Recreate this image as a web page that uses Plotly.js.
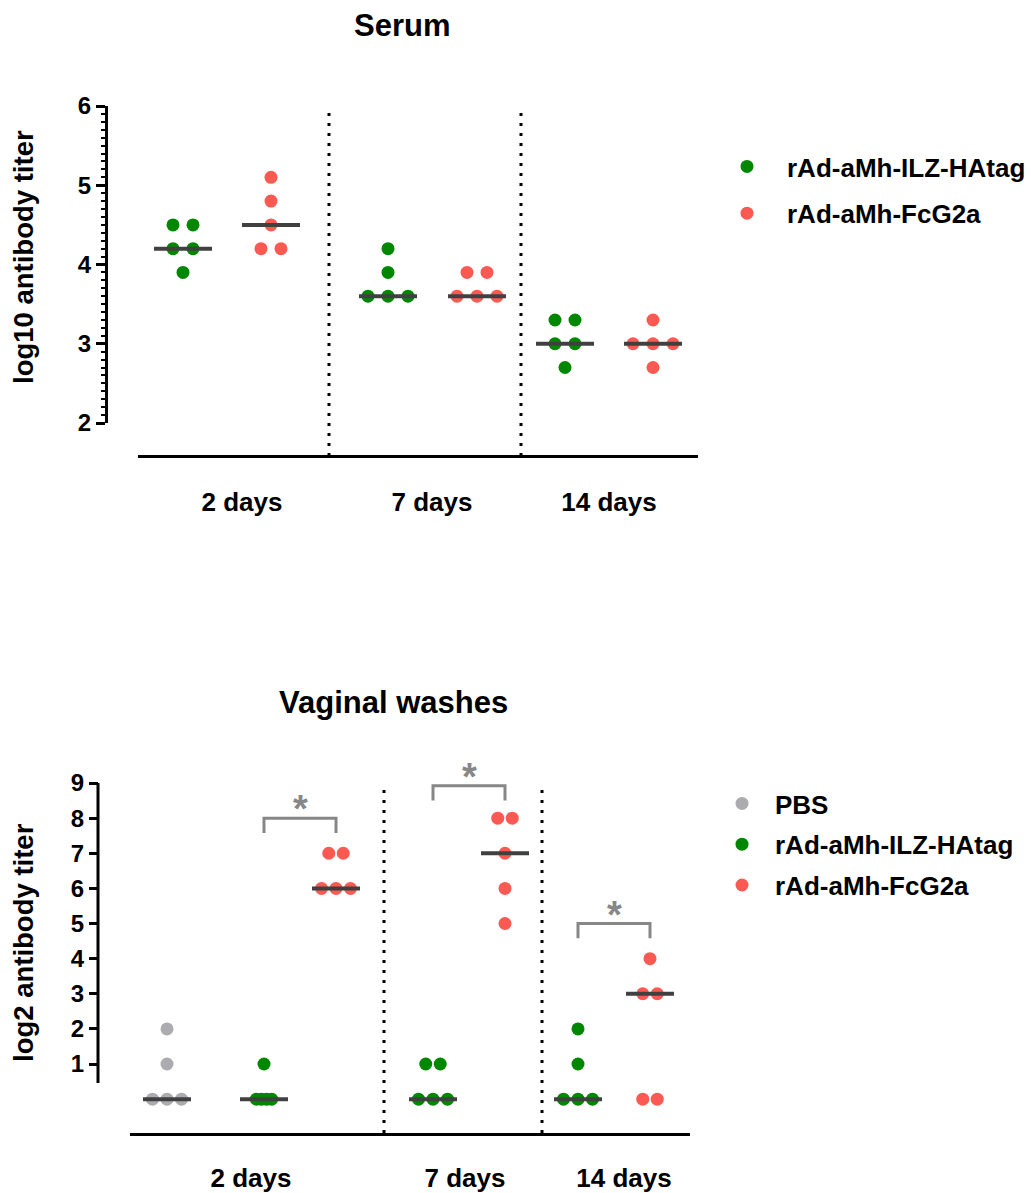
<!DOCTYPE html>
<html><head><meta charset="utf-8">
<script src="https://cdn.plot.ly/plotly-3.0.1.min.js"></script>
<style>html,body{margin:0;padding:0;background:#fff}#chart{width:1031px;height:1193px}</style>
</head><body><div id="chart"></div>
<script>
// ---------- DATA ----------
const categories = ['2 days', '7 days', '14 days'];

// Serum, log10 antibody titer (5 animals per group)
const serumSeries = ['rAd-aMh-ILZ-HAtag', 'rAd-aMh-FcG2a'];
const serumILZ   = [[4.5, 4.5, 4.2, 4.2, 3.9], [4.2, 3.9, 3.6, 3.6, 3.6], [3.3, 3.3, 3.0, 3.0, 2.7]];
const serumFcG2a = [[5.1, 4.8, 4.5, 4.2, 4.2], [3.9, 3.9, 3.6, 3.6, 3.6], [3.3, 3.0, 3.0, 3.0, 2.7]];
const serumTicks = [2, 3, 4, 5, 6];

// Vaginal washes, log2 antibody titer
const vaginalSeries = ['PBS', 'rAd-aMh-ILZ-HAtag', 'rAd-aMh-FcG2a'];
const vaginalPBS   = [[2, 1, 0, 0, 0], [], []];
const vaginalILZ   = [[1, 0, 0, 0, 0], [1, 1, 0, 0, 0], [2, 1, 0, 0, 0]];
const vaginalFcG2a = [[7, 7, 6, 6, 6], [8, 8, 7, 6, 5], [4, 3, 3, 0, 0]];
const vaginalTicks = [1, 2, 3, 4, 5, 6, 7, 8, 9];

// significance: ILZ-HAtag vs FcG2a
const sigCategories = ['2 days', '7 days', '14 days'];
const sigLabels = ['*', '*', '*'];

// ---------- LAYOUT CONSTANTS (pixels) ----------
const W = 1031, H = 1193;
const FONT = 'Liberation Sans, Arial, Helvetica, sans-serif';
const GREEN = '#008700', RED = '#fb5a53', GRAY = '#acacb0', MED = '#404040', SIG = '#878787';
const px = v => v / W, py = v => 1 - v / H;

const TOP = {xPx: [138, 698], yAxisPx: 106, yPx: [106, 423], yRange: [2, 6], xAxisPx: 456,
  cols: [[183, 388, 565], [271, 477, 653]], dividers: [329, 521], labelX: [242, 432, 609],
  spread: 20, halfMed: 29};
const BOT = {xPx: [130, 690], yAxisPx: 98, yPx: [783, 1133], yRange: [-0.964, 9], yLineFrom: 0.456,
  cols: [[167, null, null], [264, 433, 578], [336, 505, 650]], dividers: [384, 542], labelX: [251, 465, 624],
  spread: 14.5, halfMed: 24};

function swarm(vals, cx, sp) {
  const counts = {}, idx = {};
  vals.forEach(v => counts[v] = (counts[v] || 0) + 1);
  return vals.map(v => {
    const n = counts[v];
    idx[v] = (idx[v] === undefined ? 0 : idx[v] + 1);
    const s = n >= 4 ? sp * 0.35 : sp;
    return cx + (idx[v] - (n - 1) / 2) * s;
  });
}
function median(a) {
  const s = a.slice().sort((p, q) => p - q), m = Math.floor(s.length / 2);
  return s.length % 2 ? s[m] : (s[m - 1] + s[m]) / 2;
}

const traces = [];
function addSeries(groups, cols, spread, name, color, xa, ya, legend) {
  const x = [], y = [];
  groups.forEach((g, i) => { if (!g.length) return; const xs = swarm(g, cols[i], spread); xs.forEach((xx, k) => { x.push(xx); y.push(g[k]); }); });
  traces.push({type: 'scatter', mode: 'markers', x, y, xaxis: xa, yaxis: ya, name, legend,
    legendgroup: legend + name, cliponaxis: false,
    marker: {color, size: 13, line: {width: 0}}, hoverinfo: 'skip'});
}
function addMedians(groups, cols, half, xa, ya) {
  const x = [], y = [];
  groups.forEach((g, i) => { if (!g.length) return; const m = median(g); x.push(cols[i] - half, cols[i] + half, null); y.push(m, m, null); });
  traces.push({type: 'scatter', mode: 'lines', x, y, xaxis: xa, yaxis: ya, showlegend: false,
    line: {color: MED, width: 4}, hoverinfo: 'skip'});
}

// Serum
addSeries(serumILZ, TOP.cols[0], TOP.spread, serumSeries[0], GREEN, 'x', 'y', 'legend');
addSeries(serumFcG2a, TOP.cols[1], TOP.spread, serumSeries[1], RED, 'x', 'y', 'legend');
addMedians(serumILZ, TOP.cols[0], TOP.halfMed, 'x', 'y');
addMedians(serumFcG2a, TOP.cols[1], TOP.halfMed, 'x', 'y');
// Vaginal
addSeries(vaginalPBS, BOT.cols[0], BOT.spread, vaginalSeries[0], GRAY, 'x2', 'y2', 'legend2');
addSeries(vaginalILZ, BOT.cols[1], BOT.spread, vaginalSeries[1], GREEN, 'x2', 'y2', 'legend2');
addSeries(vaginalFcG2a, BOT.cols[2], BOT.spread, vaginalSeries[2], RED, 'x2', 'y2', 'legend2');
addMedians(vaginalPBS, BOT.cols[0], BOT.halfMed, 'x2', 'y2');
addMedians(vaginalILZ, BOT.cols[1], BOT.halfMed, 'x2', 'y2');
addMedians(vaginalFcG2a, BOT.cols[2], BOT.halfMed, 'x2', 'y2');

const shapes = [], annotations = [];
// dotted dividers
TOP.dividers.forEach(d => shapes.push({type: 'line', xref: 'x', yref: 'paper', x0: d, x1: d,
  y0: py(TOP.xAxisPx), y1: py(TOP.yPx[0]), line: {color: 'black', width: 3, dash: '3px,7px'}}));
BOT.dividers.forEach(d => shapes.push({type: 'line', xref: 'x2', yref: 'paper', x0: d, x1: d,
  y0: py(BOT.yPx[1]), y1: py(BOT.yPx[0]), line: {color: 'black', width: 3, dash: '3px,7px'}}));
// bottom y axis line
shapes.push({type: 'line', xref: 'paper', yref: 'y2', x0: px(BOT.yAxisPx), x1: px(BOT.yAxisPx),
  y0: BOT.yLineFrom, y1: BOT.yRange[1], line: {color: 'black', width: 3}});

// significance brackets
sigCategories.forEach((c, k) => {
  const i = categories.indexOf(c);
  const top = Math.min(Math.max(...vaginalFcG2a[i], ...vaginalILZ[i]) + 1, BOT.yRange[1] - 0.08);
  const x1 = BOT.cols[1][i], x2 = BOT.cols[2][i], leg = top - 0.42;
  shapes.push({type: 'path', xref: 'x2', yref: 'y2',
    path: `M ${x1},${leg} L ${x1},${top} L ${x2},${top} L ${x2},${leg}`,
    line: {color: SIG, width: 3}});
  annotations.push({xref: 'x2', yref: 'y2', x: (x1 + x2) / 2, y: top, yanchor: 'bottom', xanchor: 'center',
    text: sigLabels[k], showarrow: false, yshift: -14,
    font: {family: FONT, size: 38, color: SIG, weight: 'bold'}});
});

// titles
annotations.push({xref: 'paper', yref: 'paper', x: px(402), y: py(25), xanchor: 'center', yanchor: 'middle',
  text: 'Serum', showarrow: false, font: {family: FONT, size: 31, color: 'black', weight: 'bold'}});
annotations.push({xref: 'paper', yref: 'paper', x: px(393), y: py(702), xanchor: 'center', yanchor: 'middle',
  text: 'Vaginal washes', showarrow: false, font: {family: FONT, size: 31, color: 'black', weight: 'bold'}});
annotations.push({xref: 'paper', yref: 'paper', x: px(23), y: py(257), xanchor: 'center', yanchor: 'middle',
  text: 'log10 antibody titer', textangle: -90, showarrow: false, font: {family: FONT, size: 27.5, color: 'black', weight: 'bold'}});
annotations.push({xref: 'paper', yref: 'paper', x: px(23), y: py(943), xanchor: 'center', yanchor: 'middle',
  text: 'log2 antibody titer', textangle: -90, showarrow: false, font: {family: FONT, size: 27.5, color: 'black', weight: 'bold'}});

const minorTop = [];
for (let v = 20; v <= 60; v++) if (v % 10) minorTop.push(v / 10);

const tickFont = {family: FONT, size: 24, color: 'black', weight: 'bold'};
const catFont = {family: FONT, size: 26, color: 'black', weight: 'bold'};
const legendFont = {family: FONT, size: 26, color: 'black', weight: 'bold'};

const layout = {
  width: W, height: H, autosize: false,
  margin: {l: 0, r: 0, t: 0, b: 0, pad: 0},
  paper_bgcolor: 'white', plot_bgcolor: 'rgba(0,0,0,0)',
  font: {family: FONT, color: 'black'},
  xaxis: {domain: [px(TOP.xPx[0]), px(TOP.xPx[1])], range: TOP.xPx, anchor: 'free', position: py(TOP.xAxisPx),
    showline: true, linewidth: 3, linecolor: 'black', showgrid: false, zeroline: false,
    tickmode: 'array', tickvals: TOP.labelX, ticktext: categories, ticks: '', tickfont: catFont, ticklabelstandoff: 22},
  yaxis: {domain: [py(TOP.yPx[1]), py(TOP.yPx[0])], range: TOP.yRange, anchor: 'free', position: px(TOP.yAxisPx),
    showline: true, linewidth: 3, linecolor: 'black', showgrid: false, zeroline: false,
    tickmode: 'array', tickvals: serumTicks, ticks: 'outside', ticklen: 9, tickwidth: 3, tickcolor: 'black', tickfont: tickFont,
    minor: {tickmode: 'array', tickvals: minorTop, ticks: 'outside', ticklen: 4, tickwidth: 2, tickcolor: 'black', showgrid: false}},
  xaxis2: {domain: [px(BOT.xPx[0]), px(BOT.xPx[1])], range: BOT.xPx, anchor: 'y2',
    showline: true, linewidth: 3, linecolor: 'black', showgrid: false, zeroline: false,
    tickmode: 'array', tickvals: BOT.labelX, ticktext: categories, ticks: '', tickfont: catFont, ticklabelstandoff: 20},
  yaxis2: {domain: [py(BOT.yPx[1]), py(BOT.yPx[0])], range: BOT.yRange, anchor: 'free', position: px(BOT.yAxisPx),
    showline: false, showgrid: false, zeroline: false,
    tickmode: 'array', tickvals: vaginalTicks, ticks: 'outside', ticklen: 9, tickwidth: 3, tickcolor: 'black', tickfont: tickFont},
  legend: {x: px(707), y: py(143), xanchor: 'left', yanchor: 'top', font: legendFont, bgcolor: 'rgba(0,0,0,0)',
    traceorder: 'grouped', tracegroupgap: 10, itemsizing: 'trace', itemwidth: 70},
  legend2: {x: px(709), y: py(780), xanchor: 'left', yanchor: 'top', font: legendFont, bgcolor: 'rgba(0,0,0,0)',
    traceorder: 'grouped', tracegroupgap: 4, itemsizing: 'trace', itemwidth: 56},
  showlegend: true,
  shapes, annotations
};

Plotly.newPlot('chart', traces, layout, {displayModeBar: false, staticPlot: true});
</script></body></html>
